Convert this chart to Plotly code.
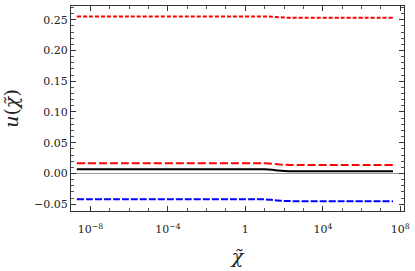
import plotly.graph_objects as go

chi = [2e-9, 1e-6, 1e-3, 1.0, 10.0, 25.0, 50.0, 100.0, 200.0, 1e3, 1e5, 4.2e7]
u_dotted_red = [0.2553, 0.2553, 0.2553, 0.2553, 0.2552, 0.2548, 0.2541, 0.2535, 0.2532, 0.2531, 0.2531, 0.2531]
u_dashed_red = [0.0166, 0.0166, 0.0166, 0.0166, 0.0165, 0.0158, 0.0149, 0.0142, 0.0139, 0.0138, 0.0138, 0.0138]
u_solid_black = [0.0069, 0.0069, 0.0069, 0.0069, 0.0068, 0.0060, 0.0049, 0.0041, 0.0038, 0.0037, 0.0037, 0.0037]
u_dashed_blue = [-0.0420, -0.0420, -0.0420, -0.0420, -0.0421, -0.0430, -0.0440, -0.0446, -0.0449, -0.0450, -0.0450, -0.0450]

xtick_vals = [1e-8, 1e-4, 1, 1e4, 1e8]
xtick_text = ["10<sup>−8</sup>", "10<sup>−4</sup>", "1", "10<sup>4</sup>", "10<sup>8</sup>"]
ytick_vals = [-0.05, 0.0, 0.05, 0.10, 0.15, 0.20, 0.25]
ytick_text = ["−0.05", "0.00", "0.05", "0.10", "0.15", "0.20", "0.25"]

FONT = "DejaVu Serif"

fig = go.Figure()
fig.add_trace(go.Scatter(x=chi, y=u_dotted_red, mode="lines",
                         line=dict(color="#ff0000", width=2, dash="4px,2px", shape="spline")))
fig.add_trace(go.Scatter(x=chi, y=u_dashed_red, mode="lines",
                         line=dict(color="#ff0000", width=2, dash="8px,3px", shape="spline")))
fig.add_trace(go.Scatter(x=chi, y=u_solid_black, mode="lines",
                         line=dict(color="#000000", width=2, shape="spline")))
fig.add_trace(go.Scatter(x=chi, y=u_dashed_blue, mode="lines",
                         line=dict(color="#0000ff", width=2, dash="7px,2px", shape="spline")))

fig.update_layout(
    width=415, height=271,
    margin=dict(l=71, r=7, t=5, b=60),
    paper_bgcolor="white", plot_bgcolor="white",
    showlegend=False,
    font=dict(size=11, family=FONT, color="#222222"),
)
fig.update_xaxes(
    type="log", range=[-9.0, 8.19],
    tickvals=xtick_vals, ticktext=xtick_text,
    ticks="inside", ticklen=5, tickwidth=1, tickcolor="#333333",
    minor=dict(ticks="inside", ticklen=3, dtick=1, tickcolor="#555555", showgrid=False),
    showline=True, linecolor="#333333", linewidth=1, mirror="ticks",
    showgrid=False, zeroline=False,
    tickfont=dict(size=11, family=FONT),
    ticklabelstandoff=8,
    title=dict(text="<i>χ̃</i>", font=dict(size=19, family=FONT), standoff=14),
)
fig.update_yaxes(
    range=[-0.061, 0.2723],
    tickvals=ytick_vals, ticktext=ytick_text,
    ticks="inside", ticklen=5, tickwidth=1, tickcolor="#333333",
    minor=dict(ticks="inside", ticklen=3, dtick=0.01, tickcolor="#555555", showgrid=False),
    showline=True, linecolor="#333333", linewidth=1, mirror="ticks",
    showgrid=False, zeroline=True, zerolinecolor="#999999", zerolinewidth=1,
    tickfont=dict(size=11, family=FONT),
    title=dict(text="<i>u</i>(<i>χ̃</i>)", font=dict(size=19, family=FONT), standoff=12),
)

fig.write_html("out.html", config={"displayModeBar": False},
               post_script="document.body.style.margin='0px';document.body.style.overflow='hidden';")
